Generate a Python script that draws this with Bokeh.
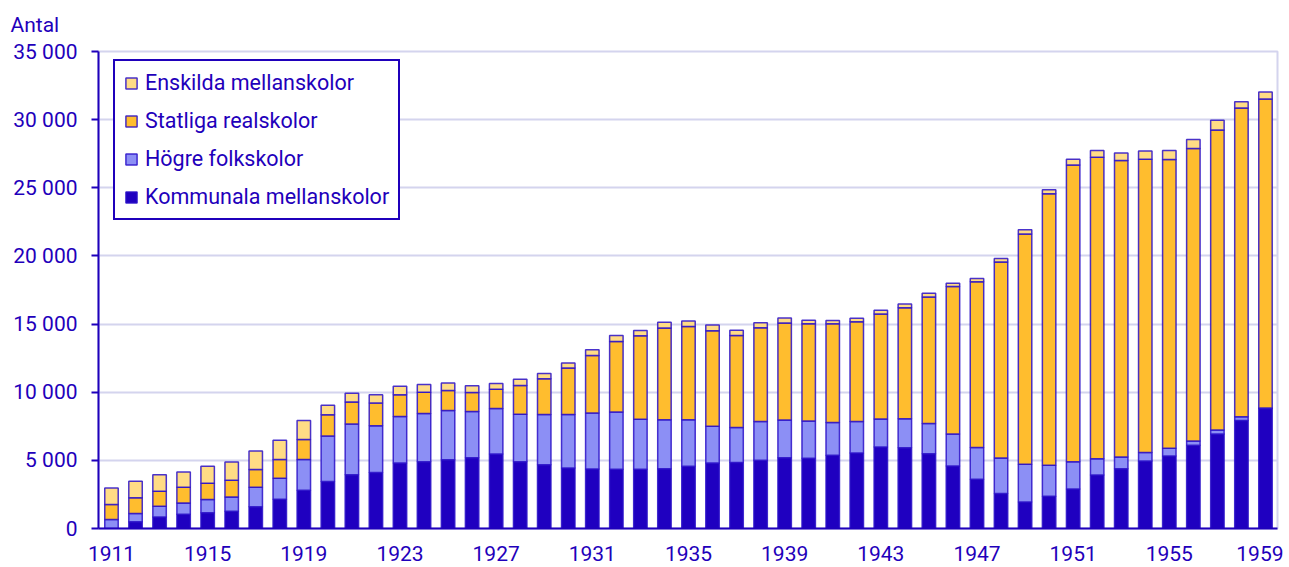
from bokeh.plotting import figure
from bokeh.models import (Legend, LegendItem, FixedTicker, CustomJSTickFormatter,
                          Range1d, Title, ColumnDataSource)
from bokeh.embed import file_html
from bokeh.resources import INLINE

years = list(range(1911, 1960))
kommunala = [0, 490, 850, 1050, 1150, 1270, 1590, 2150, 2800,
             3440, 3950, 4100, 4800, 4900, 5050, 5200, 5460, 4900, 4680,
             4440, 4370, 4340, 4340, 4390, 4560, 4800, 4850, 5000, 5200,
             5150, 5370, 5540, 5980, 5930, 5490, 4590, 3610, 2560, 1950,
             2370, 2900, 3930, 4390, 4950, 5320, 6100, 6930, 7930, 8800]
hogre = [660, 610, 780, 830, 975, 1050, 1440, 1540, 2270,
         3340, 3710, 3440, 3420, 3540, 3610, 3390, 3340, 3490, 3680,
         3930, 4100, 4200, 3680, 3590, 3420, 2710, 2560, 2850, 2760,
         2730, 2410, 2310, 2050, 2120, 2220, 2340, 2340, 2610, 2760,
         2270, 2000, 1190, 850, 630, 560, 320, 290, 270, 50]
statliga = [1100, 1150, 1100, 1150, 1200, 1220, 1290, 1370, 1460,
            1560, 1630, 1660, 1590, 1560, 1460, 1390, 1420, 2100, 2630,
            3410, 4220, 5190, 6120, 6730, 6850, 7000, 6760, 6880, 7120,
            7150, 7240, 7320, 7710, 8150, 9280, 10820, 12150, 14390, 16900,
            19930, 21780, 22120, 21760, 21510, 21200, 21460, 22020, 22660, 22660]
enskilda = [1220, 1220, 1220, 1120, 1240, 1340, 1370, 1410, 1390,
            710, 630, 610, 630, 560, 560, 490, 420, 460, 390,
            370, 420, 440, 390, 420, 390, 420, 370, 370, 370,
            250, 250, 250, 270, 270, 270, 250, 240, 250, 320,
            290, 420, 490, 560, 610, 660, 660, 710, 460, 510]

series = ["Kommunala mellanskolor", "Högre folkskolor", "Statliga realskolor", "Enskilda mellanskolor"]
colors = ["#1f00c0", "#8c8ff5", "#ffbd2e", "#ffdc85"]
x_ticks = list(range(1911, 1960, 4))
y_ticks = list(range(0, 35001, 5000))

TXT = "#1f00bb"
FONT = "Roboto"
FS = "21px"

source = ColumnDataSource(data={"year": years, series[0]: kommunala, series[1]: hogre,
                                series[2]: statliga, series[3]: enskilda})

p = figure(width=1283, height=565, output_backend="svg", toolbar_location=None,
           x_range=Range1d(1910.46, 1959.5), y_range=Range1d(0, 35000),
           min_border_left=98, min_border_top=50, min_border_right=6, min_border_bottom=37)

rs = p.vbar_stack(series, x="year", width=0.56, source=source, fill_color=colors,
                  line_color="#2a10c8", line_width=1.5, line_alpha=0.85)

p.outline_line_color = "#d4d4ee"
p.outline_line_width = 2
p.xgrid.visible = False
p.ygrid.grid_line_color = "#d4d4ee"
p.ygrid.grid_line_width = 2
p.ygrid.ticker = FixedTicker(ticks=y_ticks)

p.yaxis.ticker = FixedTicker(ticks=y_ticks)
p.yaxis.formatter = CustomJSTickFormatter(code="return tick.toString().replace(/\\B(?=(\\d{3})+(?!\\d))/g, ' ');")
p.xaxis.ticker = FixedTicker(ticks=x_ticks)
for ax in (p.xaxis[0], p.yaxis[0]):
    ax.axis_line_color = TXT
    ax.axis_line_width = 2
    ax.major_label_text_color = TXT
    ax.major_label_text_font = FONT
    ax.major_label_text_font_size = FS
    ax.minor_tick_line_color = None
p.yaxis.major_tick_line_color = TXT
p.yaxis.major_tick_line_width = 2
p.yaxis.major_tick_out = 7
p.yaxis.major_tick_in = 0
p.yaxis.major_label_standoff = 14
p.xaxis.major_tick_line_color = None
p.xaxis.major_tick_out = 0
p.xaxis.major_tick_in = 0
p.xaxis.major_label_standoff = 17

items = [LegendItem(label=series[i], renderers=[rs[i]]) for i in (3, 2, 1, 0)]
legend = Legend(items=items, location=(15, 308), padding=9, spacing=13,
                label_standoff=7, glyph_width=14, glyph_height=14,
                label_text_font=FONT, label_text_font_size="21.5px", label_text_color=TXT,
                border_line_color=TXT, border_line_width=2, border_line_alpha=1,
                background_fill_alpha=1)
p.add_layout(legend)

p.add_layout(Title(text="Antal", align="left", offset=-88, standoff=25, vertical_align="top",
                   text_font=FONT, text_font_size=FS, text_color=TXT,
                   text_font_style="normal"), "above")

open("out.html", "w").write(file_html(p, INLINE))
